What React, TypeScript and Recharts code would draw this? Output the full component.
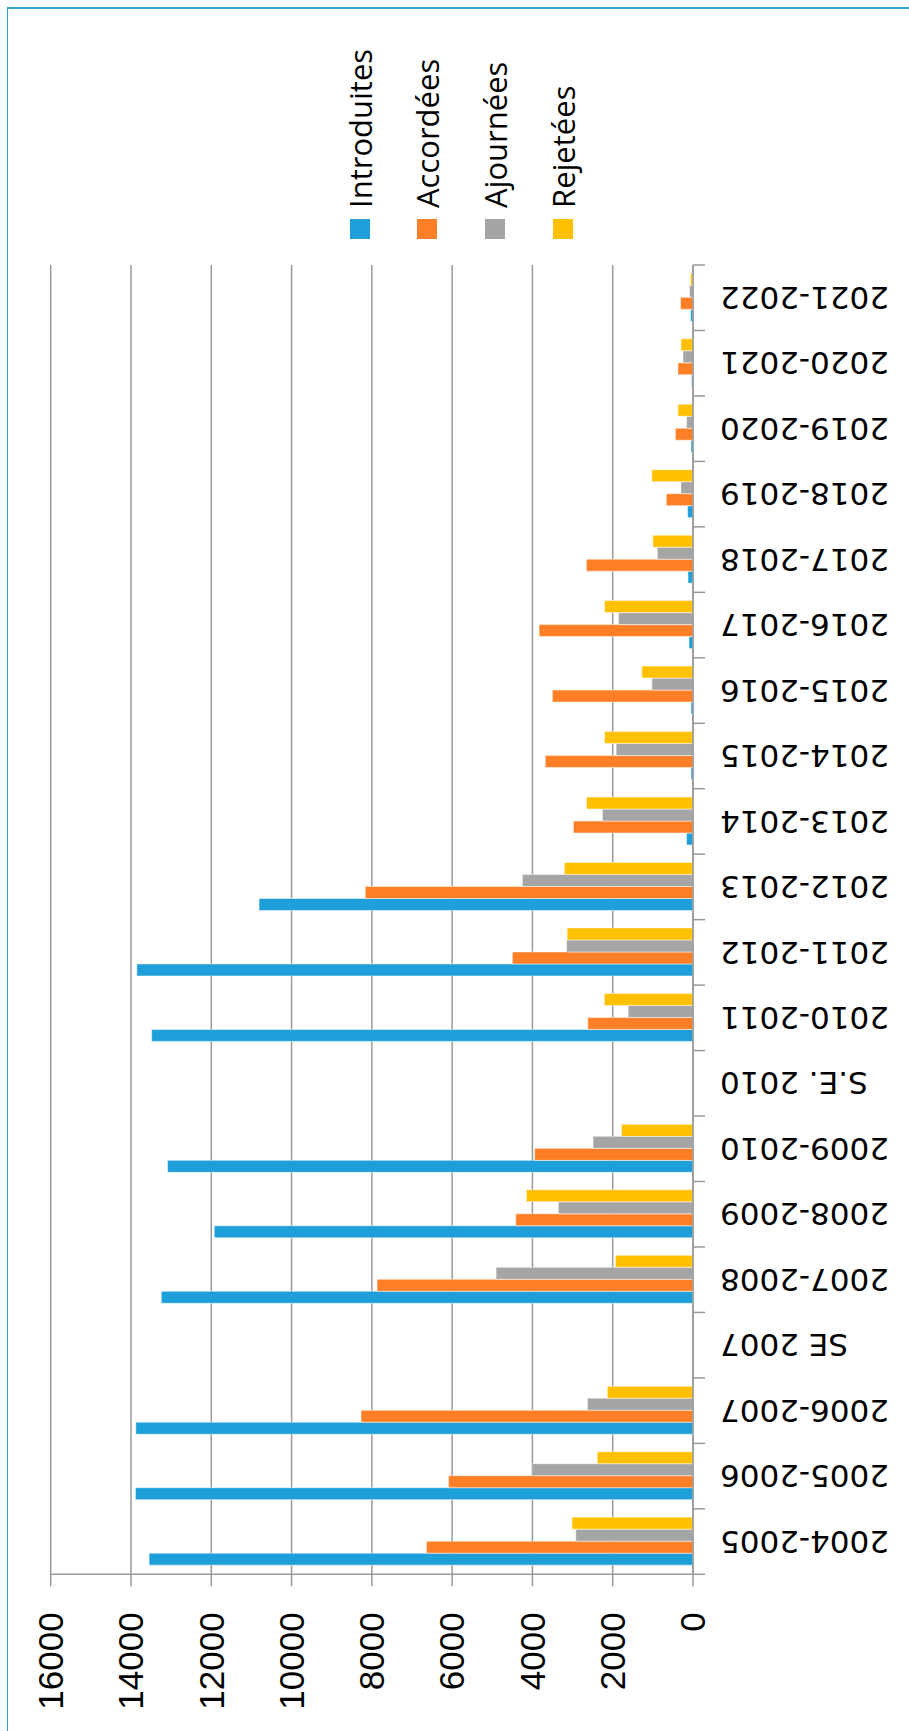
import React from 'react';
import { BarChart, Bar, XAxis, YAxis, CartesianGrid, Legend } from 'recharts';

const categories = [
  '2004-2005', '2005-2006', '2006-2007', 'SE 2007', '2007-2008', '2008-2009', '2009-2010',
  'S.E. 2010', '2010-2011', '2011-2012', '2012-2013', '2013-2014', '2014-2015', '2015-2016',
  '2016-2017', '2017-2018', '2018-2019', '2019-2020', '2020-2021', '2021-2022',
];

const seriesNames = ['Introduites', 'Accordées', 'Ajournées', 'Rejetées'];

const introduites = [13550, 13890, 13880, null, 13245, 11925, 13090, null, 13485, 13855, 10810, 160, 50, 50, 100, 125, 135, 50, 35, 60];
const accordees = [6640, 6090, 8270, null, 7870, 4415, 3945, null, 2620, 4500, 8165, 2980, 3680, 3505, 3835, 2655, 665, 440, 375, 310];
const ajournees = [2920, 4015, 2630, null, 4905, 3355, 2490, null, 1615, 3150, 4250, 2255, 1915, 1025, 1855, 890, 300, 160, 250, 85];
const rejetees = [3015, 2385, 2135, null, 1935, 4150, 1780, null, 2210, 3135, 3205, 2655, 2205, 1275, 2205, 1000, 1025, 375, 300, 60];

const valueTicks = [0, 2000, 4000, 6000, 8000, 10000, 12000, 14000, 16000];

const data = categories.map((name, i) => ({
  name,
  Introduites: introduites[i],
  'Accordées': accordees[i],
  'Ajournées': ajournees[i],
  'Rejetées': rejetees[i],
}));

// the chart is drawn as a column chart and then turned a quarter turn
const PAGE_W = 909;
const PAGE_H = 1731;
const W = PAGE_H;
const H = PAGE_W;
const PLOT_LEFT = 156.7;
const PLOT_RIGHT = 1466;
const PLOT_TOP = 50.7;
const PLOT_BOTTOM = 693;
const Y_AXIS_W = 100;
const X_AXIS_H = 100;
const TICK = 12;
const CAT_GAP = 15;
const BAND = (PLOT_RIGHT - PLOT_LEFT) / categories.length;
const GRID = '#999999';

const CategoryTick = (props: any) => {
  const { x, y, payload, index, visibleTicksCount } = props;
  const half = BAND / 2;
  const ay = y - TICK - CAT_GAP;
  return (
    <g>
      <line x1={x - half} x2={x - half} y1={ay} y2={ay + TICK} stroke={GRID} strokeWidth={1.5} />
      {index === visibleTicksCount - 1 && (
        <line x1={x + half} x2={x + half} y1={ay} y2={ay + TICK} stroke={GRID} strokeWidth={1.5} />
      )}
      <text
        x={x}
        y={y}
        dy="0.35em"
        textAnchor="end"
        transform={`rotate(-90 ${x} ${y})`}
        fontFamily="DejaVu Sans"
        fontSize={31}
        fill="#000"
      >
        {payload.value}
      </text>
    </g>
  );
};

const ValueTick = (props: any) => {
  const { x, y, payload } = props;
  return (
    <text x={x} y={y} dy="0.35em" textAnchor="end" fontFamily="Liberation Sans" fontSize={35} fill="#000">
      {payload.value}
    </text>
  );
};

const renderLegend = (props: any) => {
  const items = [...(props.payload || [])].sort(
    (a: any, b: any) => seriesNames.indexOf(a.value) - seriesNames.indexOf(b.value),
  );
  return (
    <div>
      {items.map((item: any) => (
        <div key={item.value} style={{ height: 67.6, display: 'flex', alignItems: 'center' }}>
          <div style={{ width: 20, height: 20, background: item.color, marginRight: 11 }} />
          <span style={{ fontFamily: 'Open Sans', fontSize: 31, color: '#000', whiteSpace: 'nowrap' }}>
            {item.value}
          </span>
        </div>
      ))}
    </div>
  );
};

const App: React.FC = () => {
  return (
    <div style={{ position: 'absolute', left: 0, top: 0, width: PAGE_W, height: PAGE_H, overflow: 'hidden', background: '#fff' }}>
      <div
        style={{
          position: 'absolute',
          left: 0,
          top: 0,
          width: W,
          height: H,
          transformOrigin: '0 0',
          transform: `translateY(${PAGE_H}px) rotate(-90deg)`,
        }}
      >
        <div
          style={{
            position: 'absolute',
            left: -10,
            top: 7,
            width: 1734,
            height: 1000,
            boxSizing: 'border-box',
            borderTop: '1.5px solid #2d9fd8',
            borderRight: '2px solid #2d9fd8',
          }}
        />
        <BarChart
          width={W}
          height={H}
          data={data}
          barCategoryGap="14%"
          barGap={0}
          margin={{
            top: PLOT_TOP,
            right: W - PLOT_RIGHT,
            bottom: H - PLOT_BOTTOM - X_AXIS_H,
            left: PLOT_LEFT - Y_AXIS_W,
          }}
        >
          <CartesianGrid vertical={false} stroke={GRID} strokeWidth={1.5} />
          <XAxis
            dataKey="name"
            interval={0}
            height={X_AXIS_H}
            axisLine={{ stroke: GRID, strokeWidth: 1.5 }}
            tickLine={{ stroke: 'none' }}
            tickSize={TICK}
            tickMargin={CAT_GAP}
            tick={<CategoryTick />}
          />
          <YAxis
            domain={[0, 16000]}
            ticks={valueTicks}
            width={Y_AXIS_W}
            axisLine={{ stroke: GRID, strokeWidth: 1.5 }}
            tickLine={{ stroke: GRID, strokeWidth: 1.5 }}
            tickSize={TICK}
            tickMargin={26}
            tick={<ValueTick />}
          />
          <Legend
            layout="vertical"
            align="center"
            verticalAlign="middle"
            itemSorter={null as any}
            wrapperStyle={{ left: 1492, top: 326, width: 'auto' }}
            content={renderLegend}
          />
          <Bar dataKey="Introduites" fill="#1f9fd9" stroke="#ffffff" strokeWidth={0.5} isAnimationActive={false} />
          <Bar dataKey="Accordées" fill="#ff7f27" stroke="#ffffff" strokeWidth={0.5} isAnimationActive={false} />
          <Bar dataKey="Ajournées" fill="#a5a5a5" stroke="#ffffff" strokeWidth={0.5} isAnimationActive={false} />
          <Bar dataKey="Rejetées" fill="#ffc000" stroke="#ffffff" strokeWidth={0.5} isAnimationActive={false} />
        </BarChart>
      </div>
    </div>
  );
};

export default App;
